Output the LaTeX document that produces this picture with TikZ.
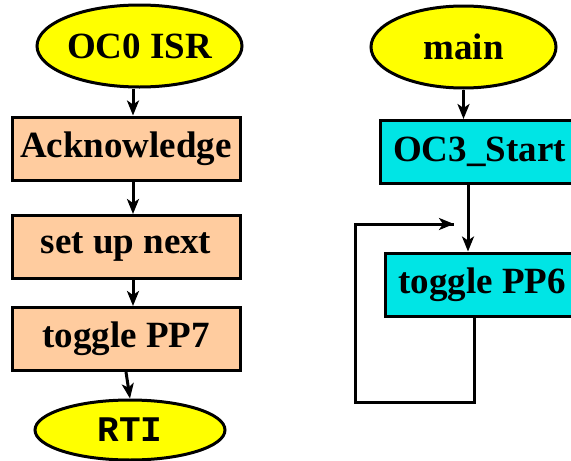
\documentclass[tikz,border=0pt]{standalone}
\usepackage{fontspec}
\setmainfont{Liberation Serif}
\newfontfamily\codefont{Liberation Mono}
\usetikzlibrary{arrows.meta,shapes.geometric}
\definecolor{peach}{HTML}{FFCC9F}
\definecolor{aqua}{HTML}{00E5E5}
\definecolor{yel}{HTML}{FFFF00}
\tikzset{
  lbl/.style={font=\fontsize{37}{40}\selectfont\bfseries},
  term/.style={ellipse, draw, fill=yel, line width=3pt, inner sep=0pt, lbl},
  isrbox/.style={rectangle, draw, fill=peach, line width=3pt, inner sep=0pt, minimum width=228pt, minimum height=63pt, lbl},
  mainbox/.style={rectangle, draw, fill=aqua, line width=3pt, inner sep=0pt, minimum width=199pt, minimum height=63pt, lbl},
  arr/.style={line width=3pt, -{Stealth[length=15pt,width=12pt,inset=4pt]}},
  ln/.style={line width=3pt}
}
\begin{document}
\begin{tikzpicture}[x=1pt,y=-1pt]
\clip (0,0) rectangle (571,461);
% left column
\node[term, minimum width=185pt, minimum height=82pt] (oc0) at (139.5,46) {OC0 ISR};
\node[isrbox] (ack) at (126,148.5) {Acknowledge};
\node[isrbox] (setup) at (126,247) {set up next};
\node[isrbox] (pp7) at (126,339) {toggle PP7};
\node[term, minimum width=190pt, minimum height=60pt, font=\fontsize{36}{40}\selectfont\bfseries\codefont] (rti) at (130,430) {RTI};
\draw[arr] ([xshift=-6.5pt]oc0.south) -- ([xshift=7pt]ack.north);
\draw[arr] ([xshift=7pt]ack.south) -- ([xshift=7pt]setup.north);
\draw[arr] ([xshift=7pt]setup.south) -- ([xshift=7pt]pp7.north);
\draw[arr] (pp7.south) -- (rti.north);
% right column
\node[term, minimum width=185pt, minimum height=82pt] (main) at (463.5,47) {main};
\node[mainbox] (oc3) at (479.5,152) {OC3\_Start};
\node[mainbox, minimum width=194pt] (pp6) at (482,284.5) {toggle PP6};
\draw[arr] (main.south) -- (main.south |- oc3.north);
\coordinate (join) at ([xshift=-11.5pt]oc3.south |- 0,224);
\draw[arr] ([xshift=-11.5pt]oc3.south) -- ([xshift=-11.5pt]oc3.south |- pp6.north);
\coordinate (lb) at (355,402);
\draw[ln] ([xshift=-8pt]pp6.south) |- (lb) |- ([xshift=-14pt]join);
\draw[arr] (355,224) -- ([xshift=-14pt]join);
\end{tikzpicture}
\end{document}
